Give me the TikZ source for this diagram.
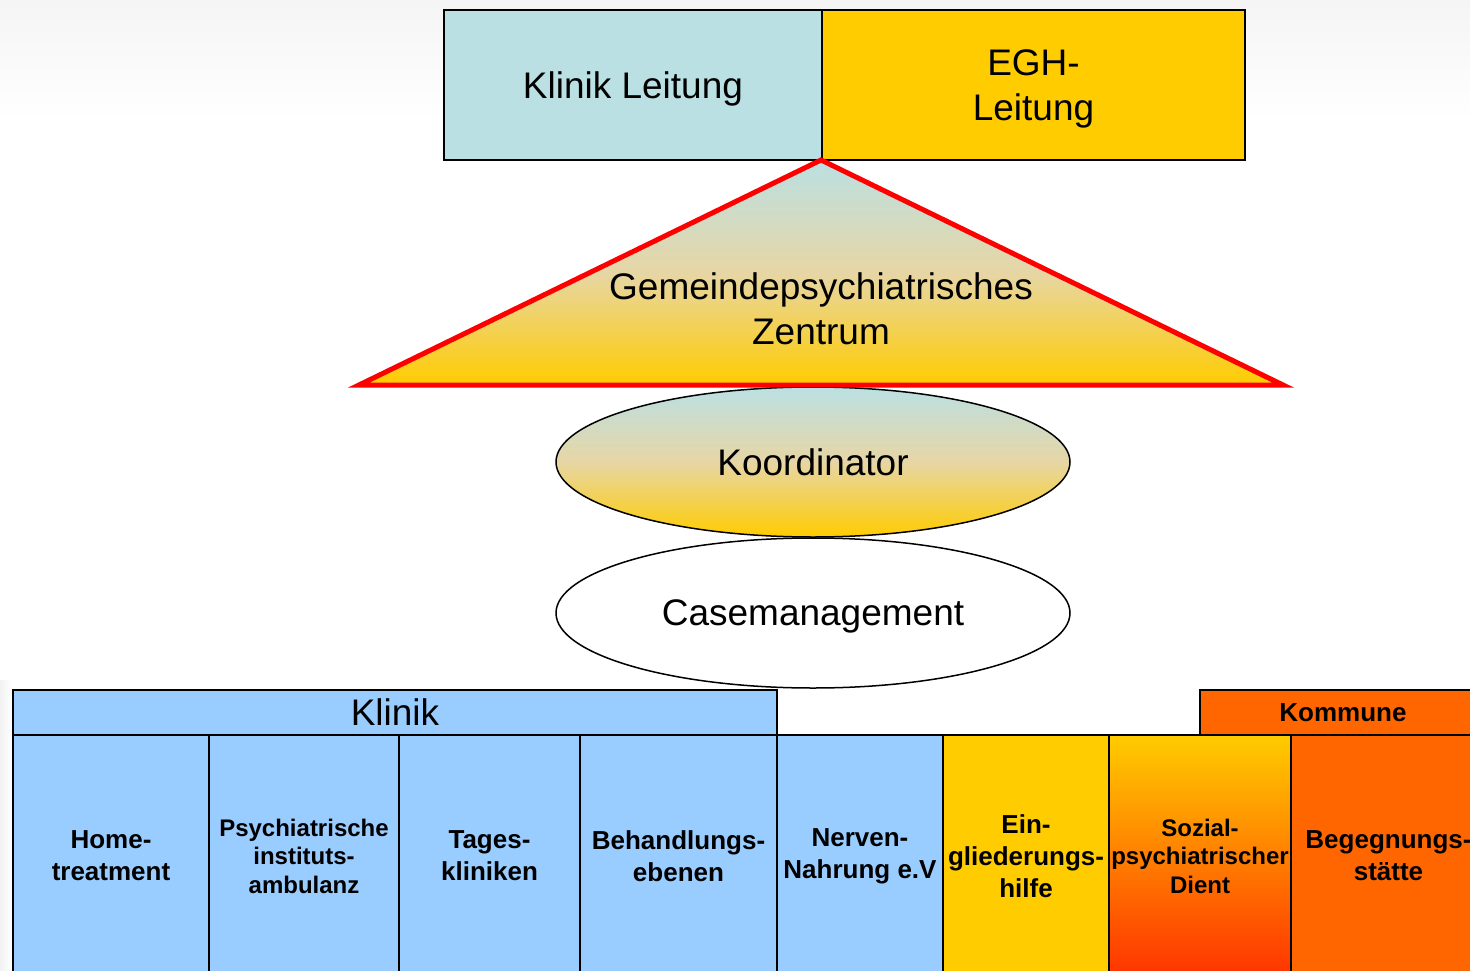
\documentclass[tikz,border=0pt]{standalone}
\usepackage{fontspec}
\setmainfont{Liberation Sans}
\usepackage{tikz}
\usetikzlibrary{shapes.geometric}
\definecolor{leitungteal}{RGB}{187,224,227}
\definecolor{eghgold}{RGB}{255,204,0}
\definecolor{mixbeige}{RGB}{231,214,165}
\definecolor{klinikblue}{RGB}{153,204,255}
\definecolor{kommuneorange}{RGB}{255,102,0}
\definecolor{dienstred}{RGB}{255,51,0}

\begin{document}
\begin{tikzpicture}[x=1pt,y=-1pt,
  bigtext/.style={font=\fontsize{37}{45}\selectfont, text depth=0pt},
  coltext/.style={font=\fontsize{26}{32}\selectfont\bfseries},
  smalltext/.style={font=\fontsize{24}{28.5}\selectfont\bfseries},
  fade/.style={top color=leitungteal, bottom color=eghgold, middle color=mixbeige},
  box/.style={draw, line width=2, inner sep=0pt, align=center, anchor=north west},
  column/.style={box, minimum height=242pt, coltext},
  oval/.style={ellipse, draw, line width=1.5, minimum width=514pt, minimum height=150pt, bigtext}]
\useasboundingbox (0,0) rectangle (1470,971);
\clip (0,0) rectangle (1470,971);
%Background
\shade [top color=gray!8, bottom color=white] (0,0) rectangle (1470,120);
\shade [left color=gray!10, right color=white] (0,680) rectangle (12,971);

%Shape: Rectangle
\node [box, fill=leitungteal, minimum width=378pt, minimum height=150pt, bigtext] (klinikleitung) at (443,9) {Klinik Leitung};
%Shape: Rectangle
\node [box, fill=eghgold, minimum width=423pt, minimum height=150pt, bigtext] (eghleitung) at (821,9) {EGH-\\Leitung};

%Shape: Ellipse
\node [oval, fade] (koordinator) at (813,462) {Koordinator};
%Shape: Ellipse
\node [oval, fill=white] (casemanagement) at (813,613) {Casemanagement};

%Shape: Triangle
\draw [draw=red, line width=5, line join=miter, fade] (821,160) -- (359,385) -- (1283,385) -- cycle;
% Text Node
\node [bigtext, align=center] (zentrum) at (821,309) {Gemeindepsychiatrisches\\Zentrum};

%Shape: Rectangle
\node [box, fill=klinikblue, minimum width=764pt, minimum height=45pt, bigtext] (klinik) at (12,689) {Klinik};
%Shape: Rectangle
\node [box, fill=kommuneorange, minimum width=286pt, minimum height=45pt, coltext] (kommune) at (1199,689) {Kommune};

%Shape: Rectangle
\node [column, fill=klinikblue, minimum width=196pt] (home) at (12,734) {Home-\\treatment};
%Shape: Rectangle
\node [column, fill=klinikblue, minimum width=190pt, smalltext] (pia) at (208,734) {Psychiatrische\\instituts-\\ambulanz};
%Shape: Rectangle
\node [column, fill=klinikblue, minimum width=181pt] (tages) at (398,734) {Tages-\\kliniken};
%Shape: Rectangle
\node [column, fill=klinikblue, minimum width=197pt] (ebenen) at (579,734) {Behandlungs-\\ebenen};
%Shape: Rectangle
\node [column, fill=klinikblue, minimum width=166pt] (nerven) at (776,734) {Nerven-\\Nahrung e.V};
%Shape: Rectangle
\node [column, fill=eghgold, minimum width=166pt] (eingliederung) at (942,734) {Ein-\\gliederungs-\\hilfe};
%Shape: Rectangle
\node [column, top color=eghgold, bottom color=dienstred, minimum width=182pt, smalltext] (spdi) at (1108,734) {Sozial-\\psychiatrischer\\Dient};
%Shape: Rectangle
\node [column, fill=kommuneorange, minimum width=195pt] (begegnung) at (1290,734) {Begegnungs-\\stätte};
\end{tikzpicture}
\end{document}
